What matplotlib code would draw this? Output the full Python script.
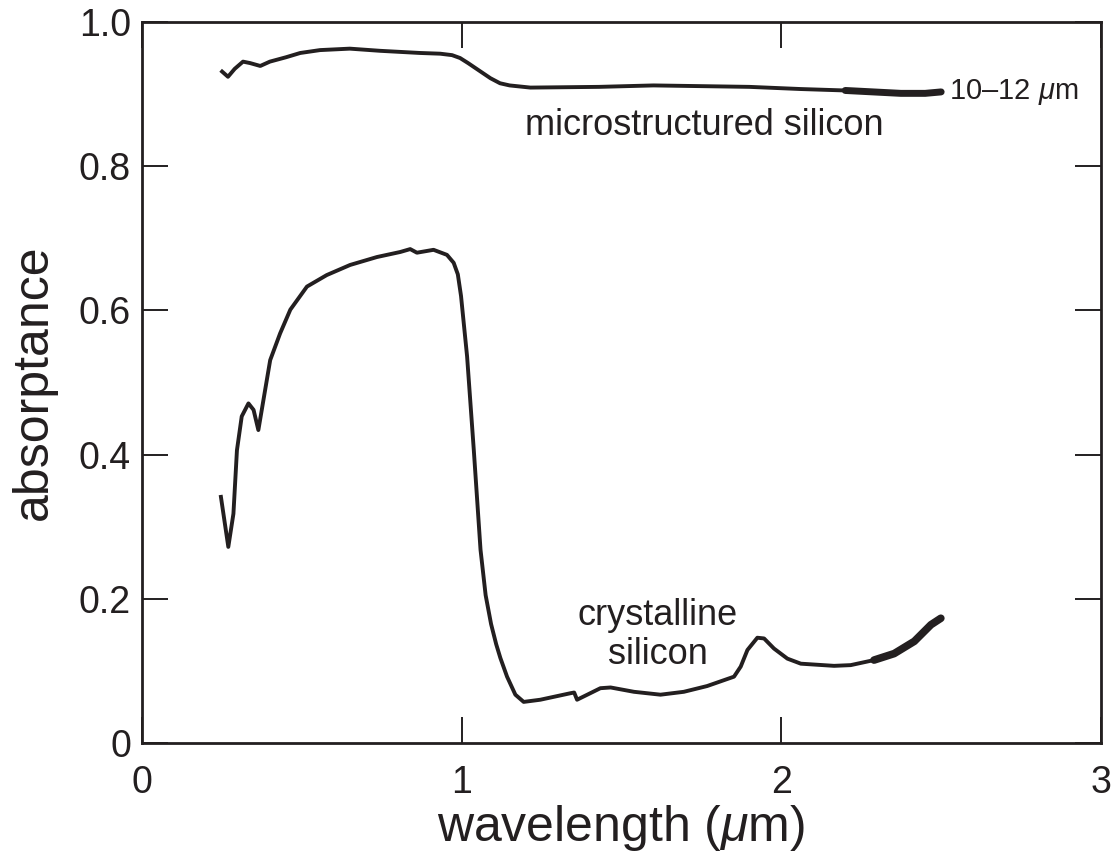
import matplotlib
matplotlib.use("Agg")
import matplotlib.pyplot as plt

plt.rcParams['font.family'] = ['Liberation Sans', 'DejaVu Sans']
plt.rcParams['mathtext.fontset'] = 'custom'
plt.rcParams['mathtext.it'] = 'Liberation Sans:italic'
plt.rcParams['mathtext.rm'] = 'Liberation Sans'

# microstructured silicon absorptance
micro_x = [0.246, 0.269, 0.290, 0.316, 0.338, 0.370, 0.400, 0.450, 0.495, 0.557,
           0.650, 0.745, 0.870, 0.933, 0.970, 0.995, 1.020, 1.060, 1.090, 1.120,
           1.150, 1.215, 1.430, 1.600, 1.750, 1.900, 2.060, 2.200, 2.374, 2.450,
           2.500]
micro_y = [0.933, 0.924, 0.935, 0.945, 0.943, 0.939, 0.945, 0.951, 0.957, 0.961,
           0.963, 0.960, 0.957, 0.956, 0.954, 0.950, 0.943, 0.931, 0.922, 0.915,
           0.912, 0.909, 0.910, 0.912, 0.911, 0.910, 0.907, 0.905, 0.901, 0.901,
           0.903]

# crystalline silicon absorptance
cryst_x = [0.246, 0.270, 0.286, 0.297, 0.312, 0.333, 0.349, 0.364, 0.380, 0.401,
           0.432, 0.464, 0.516, 0.578, 0.651, 0.735, 0.808, 0.839, 0.860, 0.912,
           0.954, 0.975, 0.988, 0.998, 1.017, 1.038, 1.059, 1.075, 1.092, 1.108,
           1.121, 1.142, 1.168, 1.194, 1.246, 1.340, 1.352, 1.361, 1.393, 1.434,
           1.466, 1.539, 1.622, 1.695, 1.768, 1.852, 1.873, 1.894, 1.925, 1.946,
           1.977, 2.019, 2.061, 2.165, 2.217, 2.290, 2.353, 2.416, 2.468, 2.499]
cryst_y = [0.344, 0.272, 0.318, 0.406, 0.453, 0.471, 0.462, 0.434, 0.476, 0.531,
           0.568, 0.601, 0.633, 0.649, 0.663, 0.674, 0.681, 0.685, 0.680, 0.684,
           0.677, 0.666, 0.650, 0.620, 0.536, 0.406, 0.268, 0.205, 0.165, 0.137,
           0.118, 0.092, 0.067, 0.057, 0.060, 0.069, 0.070, 0.060, 0.067, 0.076,
           0.077, 0.071, 0.067, 0.071, 0.079, 0.092, 0.106, 0.129, 0.146, 0.145,
           0.131, 0.117, 0.110, 0.107, 0.108, 0.115, 0.124, 0.141, 0.164, 0.173]

x_ticks = [0, 1, 2, 3]
x_ticklabels = ['0', '1', '2', '3']
y_ticks = [0, 0.2, 0.4, 0.6, 0.8, 1.0]
y_ticklabels = ['0', '0.2', '0.4', '0.6', '0.8', '1.0']

fig = plt.figure(figsize=(11.19, 8.55), dpi=100)
ax = fig.add_axes([0.1269, 0.131, 0.857, 0.8433])

col = '#231f20'
ax.plot(micro_x, micro_y, color=col, lw=2.8, solid_joinstyle='round', solid_capstyle='butt')
ax.plot(cryst_x, cryst_y, color=col, lw=2.8, solid_joinstyle='round', solid_capstyle='butt')
# noisier tails drawn thicker
mt = [i for i, v in enumerate(micro_x) if v >= 2.2]
ax.plot([micro_x[i] for i in mt], [micro_y[i] for i in mt], color=col, lw=5, solid_capstyle='round')
ct = [i for i, v in enumerate(cryst_x) if v >= 2.25]
ax.plot([cryst_x[i] for i in ct], [cryst_y[i] for i in ct], color=col, lw=5.5, solid_capstyle='round')

ax.set_xlim(0, 3)
ax.set_ylim(0, 1)
ax.set_xticks(x_ticks)
ax.set_xticklabels(x_ticklabels)
ax.set_yticks(y_ticks)
ax.set_yticklabels(y_ticklabels)
ax.tick_params(direction='in', length=19, width=1.4, colors=col, labelsize=27,
               top=True, right=True, labelcolor=col)
ax.tick_params(axis='x', pad=16)
ax.tick_params(axis='y', pad=8)
for s in ax.spines.values():
    s.set_linewidth(2.0)
    s.set_color(col)

ax.set_xlabel(r'wavelength ($\mu$m)', fontsize=36, color=col, labelpad=1)
ax.set_ylabel('absorptance', fontsize=36, color=col, labelpad=16)

ax.text(1.76, 0.857, 'microstructured silicon', fontsize=26, ha='center', va='center', color=col)
ax.text(2.525, 0.903, r'10–12 $\mu$m', fontsize=21, ha='left', va='center', color=col)
ax.text(1.614, 0.150, 'crystalline\nsilicon', fontsize=26, ha='center', va='center',
        color=col, linespacing=1.15)

fig.savefig('out.png', dpi=100)
